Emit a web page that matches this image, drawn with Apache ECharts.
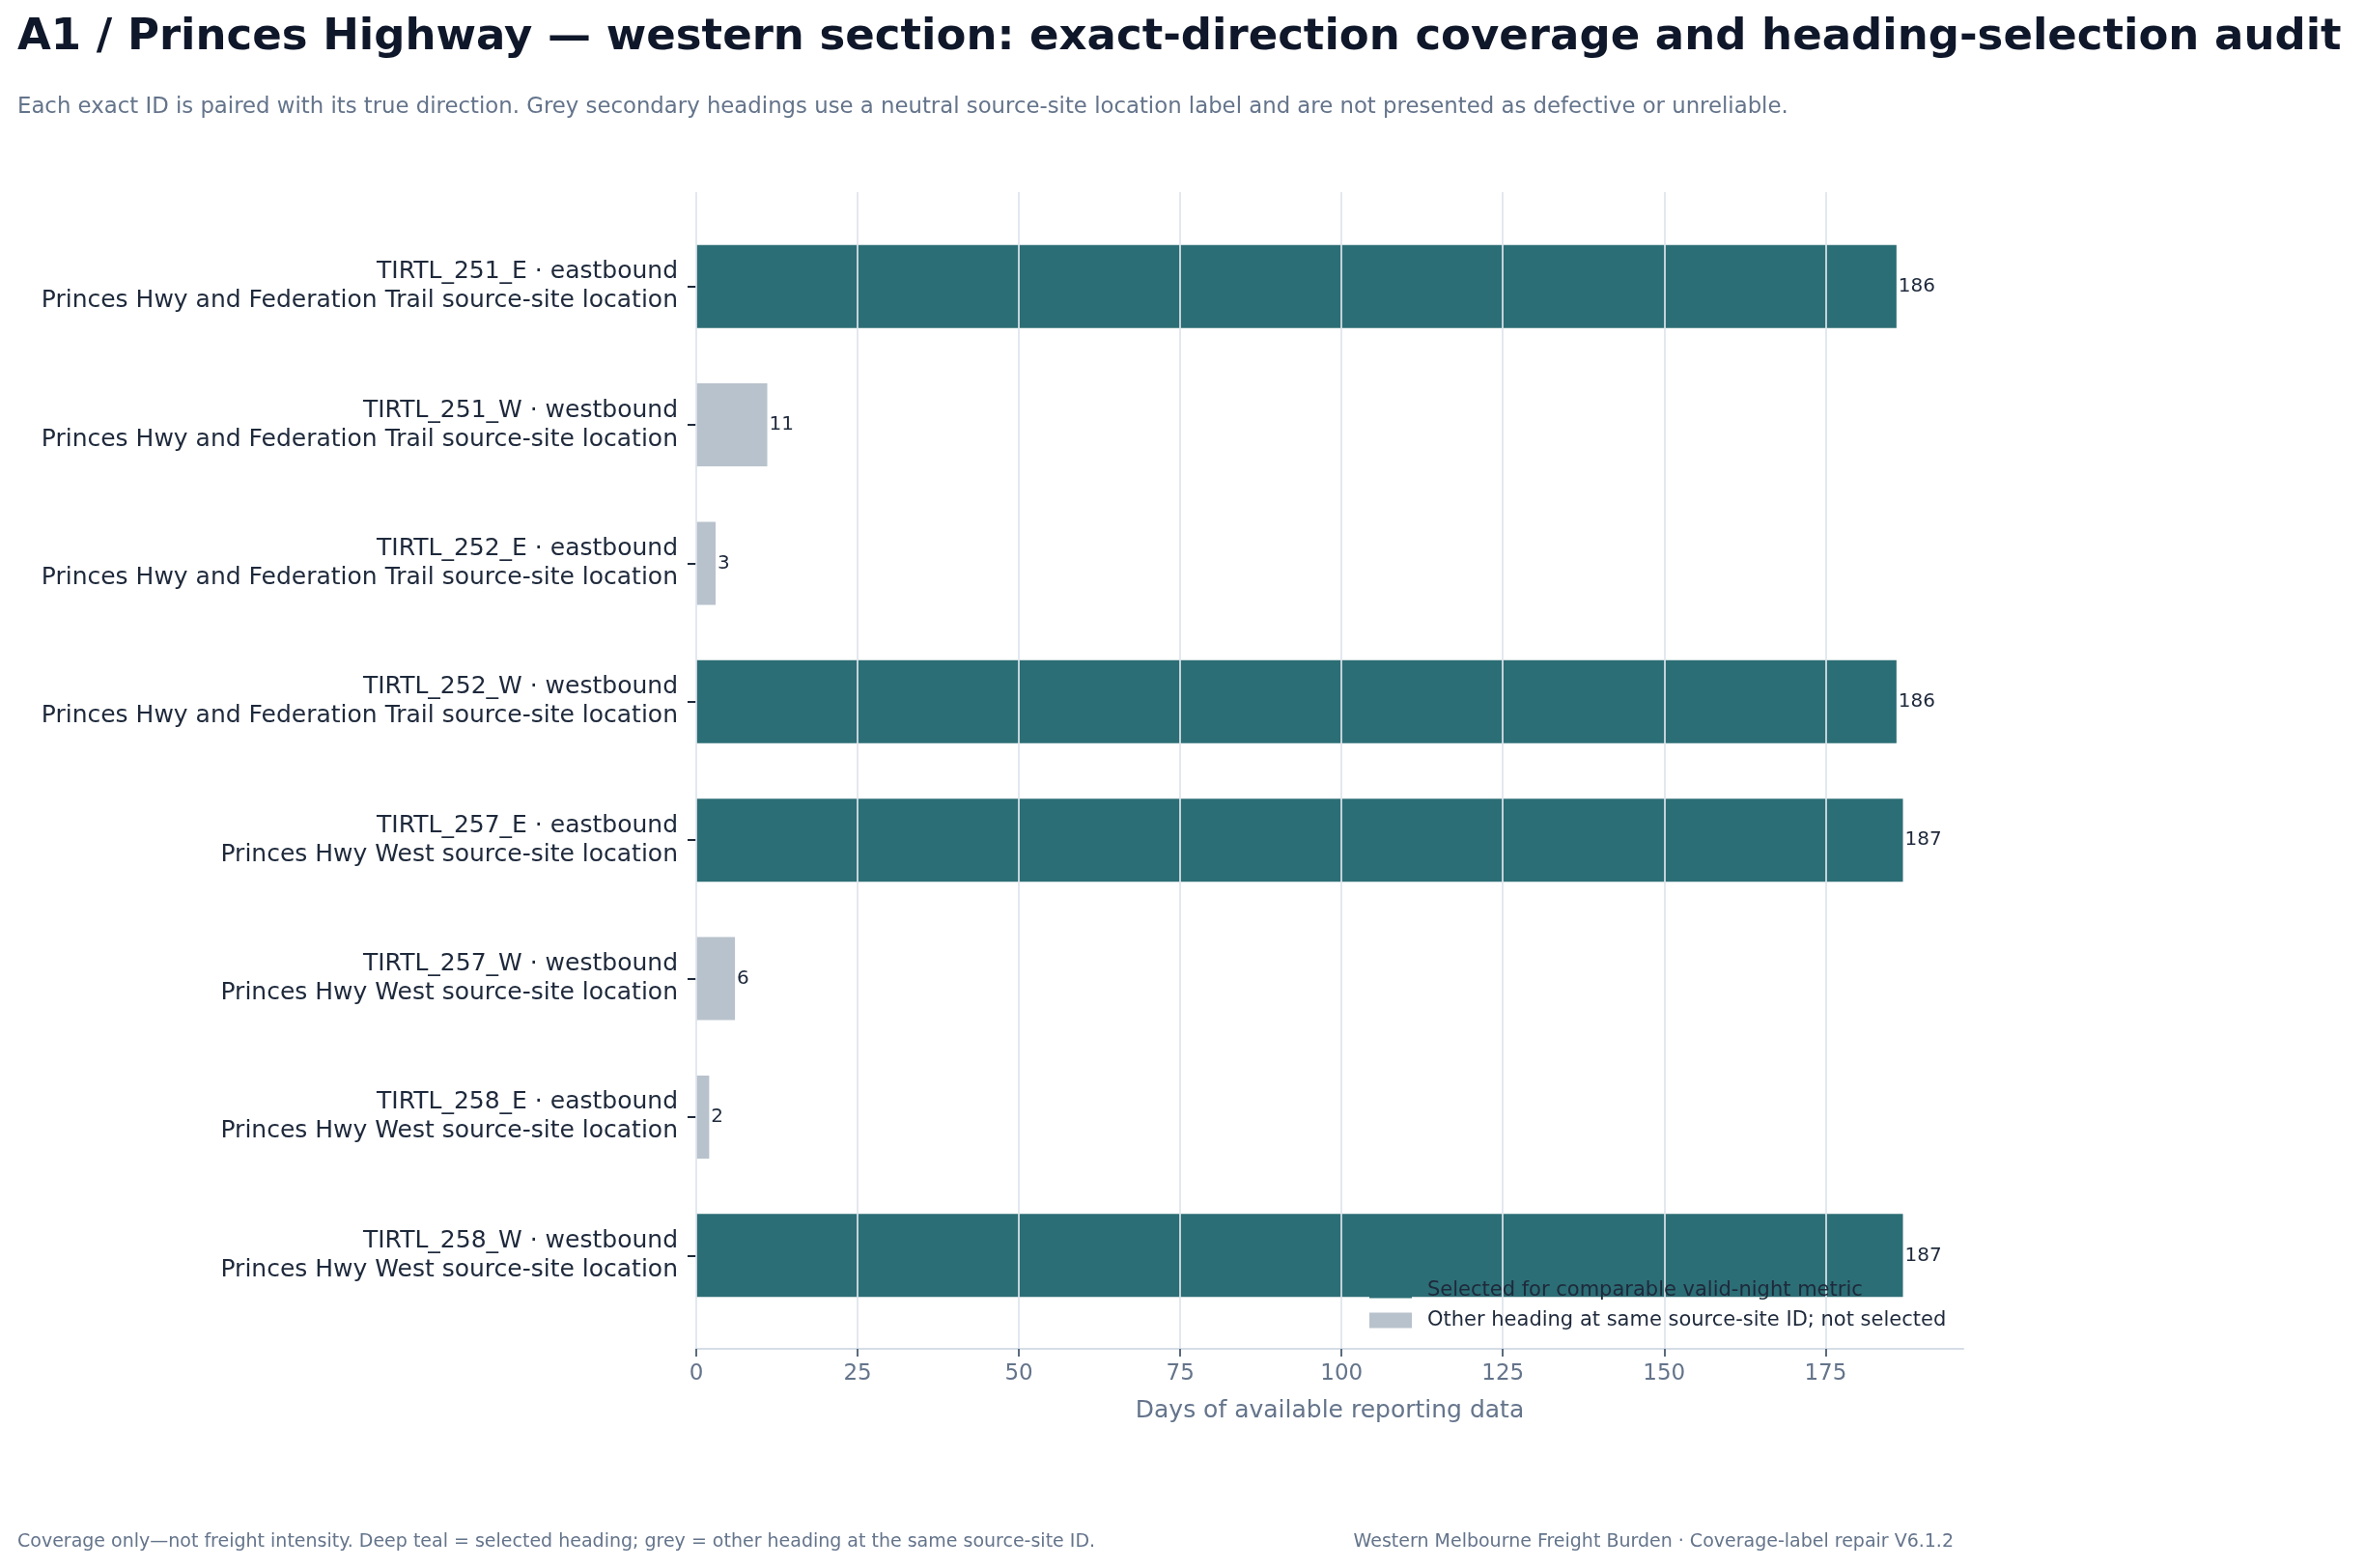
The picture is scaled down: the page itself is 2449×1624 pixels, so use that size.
<!DOCTYPE html>
<html>
<head>
<meta charset="utf-8">
<style>
  html, body { margin: 0; padding: 0; background: #ffffff; }
  #chart { width: 2449px; height: 1624px; }
</style>
<script src="https://cdn.jsdelivr.net/npm/echarts@6/dist/echarts.min.js"></script>
</head>
<body>
<div id="chart"></div>
<script>
// data
const sensorIds = ['TIRTL_251_E', 'TIRTL_251_W', 'TIRTL_252_E', 'TIRTL_252_W',
                   'TIRTL_257_E', 'TIRTL_257_W', 'TIRTL_258_E', 'TIRTL_258_W']
const directions = ['eastbound', 'westbound', 'eastbound', 'westbound',
                    'eastbound', 'westbound', 'eastbound', 'westbound']
const siteLabels = [
  'Princes Hwy and Federation Trail source-site location',
  'Princes Hwy and Federation Trail source-site location',
  'Princes Hwy and Federation Trail source-site location',
  'Princes Hwy and Federation Trail source-site location',
  'Princes Hwy West source-site location',
  'Princes Hwy West source-site location',
  'Princes Hwy West source-site location',
  'Princes Hwy West source-site location',
]
const coverageDays = [186, 11, 3, 186, 187, 6, 2, 187]
const isSelected = [true, false, false, true, true, false, false, true]
const xTickStep = 25
const xMax = 196.35 // 187 plus 5% margin

const seriesNames = [
  'Selected for comparable valid-night metric',
  'Other heading at same source-site ID; not selected',
]

const TEAL = '#2c6e75'
const GREY = '#b8c2cc'
const INK = '#1e293b'
const SLATE = '#64748b'
const FONT = 'DejaVu Sans'

const categories = sensorIds.map((id, i) => id + ' · ' + directions[i] + '\n' + siteLabels[i])
const selectedData = coverageDays.map((v, i) => (isSelected[i] ? v : '-'))
const otherData = coverageDays.map((v, i) => (isSelected[i] ? '-' : v))

const chart = echarts.init(document.getElementById('chart'), null, { renderer: 'canvas' })

const valueLabel = {
  show: true,
  position: 'right',
  distance: 2,
  fontFamily: FONT,
  fontSize: 20,
  color: INK,
}

chart.setOption({
  animation: false,
  backgroundColor: '#ffffff',
  textStyle: { fontFamily: FONT },
  grid: [
    // bars
    { left: 721, right: 416, top: 225, bottom: 252 },
    // frame for gridlines and x axis
    { left: 721, right: 416, top: 199, bottom: 227 },
  ],
  xAxis: [
    { gridIndex: 0, type: 'value', min: 0, max: xMax, interval: xTickStep, show: false },
    {
      gridIndex: 1,
      type: 'value',
      min: 0,
      max: xMax,
      interval: xTickStep,
      z: 3,
      name: 'Days of available reporting data',
      nameLocation: 'middle',
      nameGap: 52,
      nameTextStyle: { fontFamily: FONT, fontSize: 25, color: SLATE },
      axisLine: { show: true, lineStyle: { color: '#d5dde6', width: 2 } },
      axisTick: { show: true, length: 8, lineStyle: { color: '#5b6b7d', width: 2 } },
      axisLabel: { show: true, margin: 15, fontFamily: FONT, fontSize: 23, color: SLATE, showMaxLabel: false },
      splitLine: { show: true, showMaxLine: false, lineStyle: { color: 'rgba(222,228,236,0.85)', width: 2 } },
    },
  ],
  yAxis: [
    {
      gridIndex: 0,
      type: 'category',
      inverse: true,
      data: categories,
      axisLine: { show: false },
      axisTick: { show: true, alignWithLabel: true, length: 9, lineStyle: { color: INK, width: 2 } },
      axisLabel: {
        margin: 19, fontFamily: FONT, fontSize: 25, lineHeight: 30, color: INK, align: 'right',
        padding: [12, 0, 0, 0],
      },
      splitLine: { show: false },
    },
    { gridIndex: 1, type: 'value', min: 0, max: 1, show: false },
  ],
  legend: {
    orient: 'vertical',
    left: 1418,
    top: 1326,
    padding: 0,
    itemWidth: 44,
    itemHeight: 16,
    itemGap: 10,
    icon: 'rect',
    textStyle: { fontFamily: FONT, fontSize: 21, color: INK, padding: [0, 0, 0, 11] },
    data: seriesNames,
  },
  series: [
    {
      name: seriesNames[0],
      type: 'bar',
      xAxisIndex: 0,
      yAxisIndex: 0,
      data: selectedData,
      barWidth: '60%',
      barGap: '-100%',
      itemStyle: { color: TEAL },
      label: valueLabel,
      z: 2,
    },
    {
      name: seriesNames[1],
      type: 'bar',
      xAxisIndex: 0,
      yAxisIndex: 0,
      data: otherData,
      barWidth: '60%',
      barGap: '-100%',
      itemStyle: { color: GREY },
      label: valueLabel,
      z: 2,
    },
  ],
  graphic: [
    {
      type: 'text', x: 18, y: 39,
      style: {
        text: 'A1 / Princes Highway — western section: exact-direction coverage and heading-selection audit',
        font: 'bold 45px "DejaVu Sans"', fill: '#0f172a', align: 'left', verticalAlign: 'middle',
      },
    },
    {
      type: 'text', x: 18, y: 111,
      style: {
        text: 'Each exact ID is paired with its true direction. Grey secondary headings use a neutral source-site location label and are not presented as defective or unreliable.',
        font: '22.8px "DejaVu Sans"', fill: SLATE, align: 'left', verticalAlign: 'middle',
      },
    },
    {
      type: 'text', x: 18, y: 1597,
      style: {
        text: 'Coverage only—not freight intensity. Deep teal = selected heading; grey = other heading at the same source-site ID.',
        font: '19px "DejaVu Sans"', fill: SLATE, align: 'left', verticalAlign: 'middle',
      },
    },
    {
      type: 'text', x: 2023, y: 1597,
      style: {
        text: 'Western Melbourne Freight Burden · Coverage-label repair V6.1.2',
        font: '19px "DejaVu Sans"', fill: SLATE, align: 'right', verticalAlign: 'middle',
      },
    },
  ],
})
</script>
</body>
</html>
